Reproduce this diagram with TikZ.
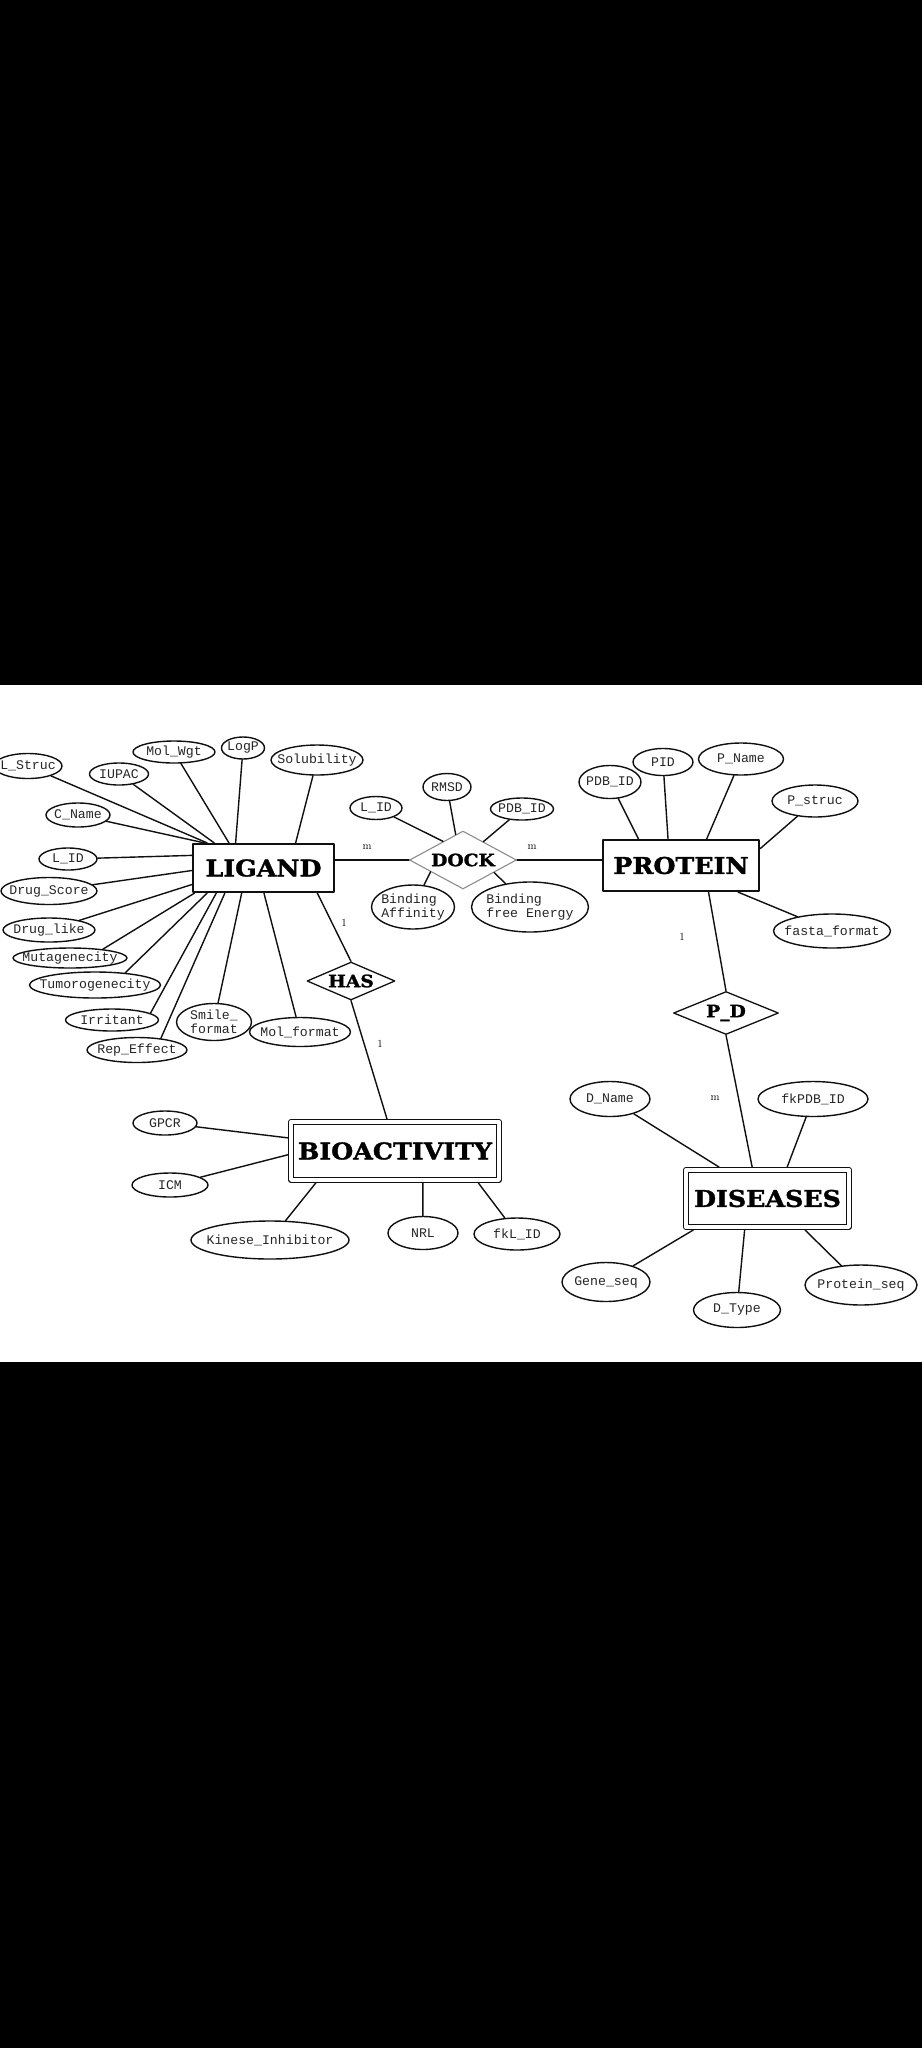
\documentclass[tikz,border=0pt]{standalone}
\usepackage{fontspec}
\usetikzlibrary{shapes.geometric}
\newfontfamily\attrfont{Liberation Mono}
\newfontfamily\entfont[FakeStretch=1.1,BoldFeatures={FakeBold=1.5}]{DejaVu Serif}
\definecolor{ink}{HTML}{101010}
\tikzset{
  every picture/.style={line join=round, line cap=round},
  attr/.style 2 args={ellipse, draw=ink, line width=1.4pt, minimum width=#1pt, minimum height=#2pt,
    inner xsep=-60pt, inner ysep=-20pt, align=left, text=black!85,
    font=\attrfont\fontsize{13.2}{14.5}\selectfont},
  entity/.style 2 args={rectangle, draw=ink, line width=2.2pt, minimum width=#1pt, minimum height=#2pt,
    inner sep=0pt, font=\entfont\bfseries\fontsize{23}{25}\selectfont},
  weak/.style 2 args={entity={#1}{#2}, line width=1.3pt, double, double distance=3.4pt, outer sep=3pt},
  rel/.style 2 args={diamond, draw=ink, line width=1.3pt, minimum width=#1pt, minimum height=#2pt,
    inner sep=-30pt, font=\entfont\bfseries\fontsize{17}{19}\selectfont},
  card/.style={font=\fontsize{11}{12}\selectfont},
  link/.style={line width=1.4pt, draw=ink},
}

\begin{document}
\begin{tikzpicture}[x=1pt,y=-1pt]
\useasboundingbox (0,0) rectangle (922,2048);
\fill[black] (0,0) rectangle (922,2048);
\fill[white] (0,685) rectangle (922,1362);

% entities and relations
\node[entity={141}{48}] (ligand) at (263.5,868) {LIGAND};
\node[entity={156}{51}] (protein) at (681,865.5) {PROTEIN};
\node[weak={208}{58}] (bio) at (395,1151) {BIOACTIVITY};
\node[weak={163}{57}] (diseases) at (767.5,1198.5) {DISEASES};
\node[rel={107}{58}, draw=black!45, line width=1.1pt] (dock) at (463,860) {DOCK};
\node[rel={88}{38}] (has) at (351,981) {HAS};
\node[rel={105}{43}] (pd) at (726,1013) {P\_D};

% ligand attributes
\node[attr={68}{25}] (lstruc) at (28,766) {L\_Struc};
\node[attr={59}{22}] (iupac) at (119,774) {IUPAC};
\node[attr={82}{22}] (molwgt) at (174,752) {Mol\_Wgt};
\node[attr={43}{22}] (logp) at (243,748) {LogP};
\node[attr={92}{30}] (solub) at (317,760) {Solubility};
\node[attr={64}{24}] (cname) at (78,815) {C\_Name};
\node[attr={58}{22}] (lid) at (68,859) {L\_ID};
\node[attr={96}{27}] (dscore) at (49,891) {Drug\_Score};
\node[attr={92}{24}] (dlike) at (49,930) {Drug\_like};
\node[attr={114}{20}] (mutag) at (70,958) {Mutagenecity};
\node[attr={131}{26}] (tumor) at (95,985) {Tumorogenecity};
\node[attr={93}{22}] (irrit) at (112,1020) {Irritant};
\node[attr={100}{25}] (repeff) at (137,1050) {Rep\_Effect};
\node[attr={75}{37}] (smile) at (214,1022) {Smile\_\\format};
\node[attr={101}{29}] (molfmt) at (300,1032) {Mol\_format};

% dock attributes
\node[attr={52}{23}] (dlid) at (376,808) {L\_ID};
\node[attr={48}{27}] (rmsd) at (447,787) {RMSD};
\node[attr={63}{22}] (dpdb) at (522,809) {PDB\_ID};
\node[attr={83}{44}] (baff) at (413,907) {Binding\\Affinity};
\node[attr={117}{50}] (bfe) at (530,907) {Binding\\free Energy};

% protein attributes
\node[attr={62}{33}] (ppdb) at (610,782) {PDB\_ID};
\node[attr={60}{27}] (pid) at (663,762) {PID};
\node[attr={85}{32}] (pname) at (741,759) {P\_Name};
\node[attr={86}{32}] (pstruc) at (815,801) {P\_struc};
\node[attr={117}{34}] (fasta) at (832,931) {fasta\_format};

% bioactivity attributes
\node[attr={64}{24}] (gpcr) at (165,1123) {GPCR};
\node[attr={76}{24}] (icm) at (170,1185) {ICM};
\node[attr={158}{38}] (kinase) at (270,1240) {Kinese\_Inhibitor};
\node[attr={70}{33}] (nrl) at (423,1233) {NRL};
\node[attr={86}{32}] (fklid) at (517,1234) {fkL\_ID};

% diseases attributes
\node[attr={80}{35}] (dname) at (610,1099) {D\_Name};
\node[attr={110}{35}] (fkpdb) at (813,1099) {fkPDB\_ID};
\node[attr={88}{39}] (geneseq) at (606,1282) {Gene\_seq};
\node[attr={87}{35}] (dtype) at (737,1310) {D\_Type};
\node[attr={112}{40}] (protseq) at (861,1285) {Protein\_seq};

% cardinalities
\node[card] (m1) at (367,847) {m};
\node[card] (m2) at (532,847) {m};
\node[card] (one1) at (344,923) {1};
\node[card] (one2) at (380,1044) {1};
\node[card] (one3) at (682,937) {1};
\node[card] (m3) at (715,1098) {m};

% relationship lines
\draw[link] (ligand.east |- dock.west) -- (dock.west);
\draw[link] (dock.east) -- (dock.east -| protein.west);
\draw[link] (ligand.-25) -- (has.north);
\draw[link] (has.south) -- (bio.104);
\draw[link] (protein.-44.5) -- (pd.north);
\draw[link] (pd.south) -- (diseases.116.2);

% attribute lines
\draw[link] (lstruc) -- (ligand.156);
\draw[link] (iupac) -- (ligand.153.7);
\draw[link] (cname) -- (ligand.157.9);
\draw[link] (molwgt) -- (ligand.144.8);
\draw[link] (logp) -- (ligand.138.7);
\draw[link] (solub) -- (ligand.38.4);
\draw[link] (lid) -- (ligand.170.5);
\draw[link] (dscore) -- (ligand.182.4);
\draw[link] (dlike) -- (ligand.193.4);
\draw[link] (mutag.15) -- (ligand.200.7);
\draw[link] (tumor.22) -- (ligand.204.1);
\draw[link] (irrit.10) -- (ligand.208);
\draw[link] (repeff.26) -- (ligand.213.7);
\draw[link] (smile) -- (ligand.229.3);
\draw[link] (molfmt) -- (ligand.271);

\draw[link] (dlid) -- (dock.137.9);
\draw[link] (rmsd) -- (dock.106);
\draw[link] (dpdb) -- (dock.42);
\draw[link] (baff) -- (dock.200);
\draw[link] (bfe) -- (dock.338);

\draw[link] (ppdb) -- (protein.148.9);
\draw[link] (pid) -- (protein.116.1);
\draw[link] (pname) -- (protein.46.7);
\draw[link] (pstruc) -- (protein.12.5);
\draw[link] (fasta) -- (protein.335.8);

\draw[link] (gpcr) -- (bio.173.1);
\draw[link] (icm) -- (bio.182.1);
\draw[link] (kinase) -- (bio.202.3);
\draw[link] (nrl) -- (bio.311.2);
\draw[link] (fklid) -- (bio.339.4);

\draw[link] (dname) -- (diseases.147.5);
\draw[link] (fkpdb) -- (diseases.58.2);
\draw[link] (geneseq) -- (diseases.203.5);
\draw[link] (dtype) -- (diseases.234.5);
\draw[link] (protseq) -- (diseases.320);
\end{tikzpicture}
\end{document}
